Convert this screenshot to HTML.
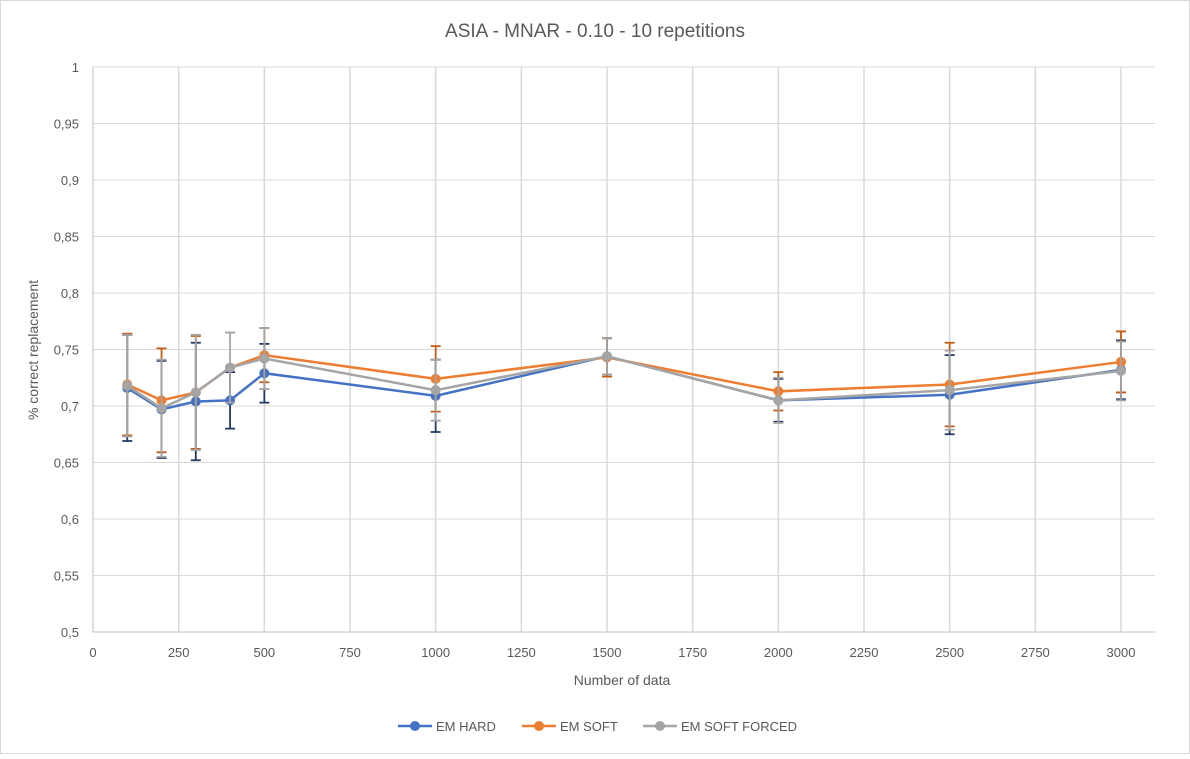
<!DOCTYPE html>
<html><head><meta charset="utf-8"><style>
body{margin:0;background:#fff;font-family:"Liberation Sans",sans-serif;}
svg text{font-family:"Liberation Sans",sans-serif;fill:#595959;}
</style></head><body>
<svg id="chart" width="1190" height="754">
<rect x="0.5" y="0.5" width="1189" height="753" fill="#fff" stroke="#d9d9d9"/>
<text x="595" y="37" text-anchor="middle" font-size="19">ASIA - MNAR - 0.10 - 10 repetitions</text>
<g id="grid"></g><g id="ticks"></g><g id="series"></g>
<text x="622" y="685" text-anchor="middle" font-size="14">Number of data</text>
<text transform="translate(38,350) rotate(-90)" text-anchor="middle" font-size="14">% correct replacement</text>
<g id="legend"></g>
</svg>
<script>
const xValues=[100,200,300,400,500,1000,1500,2000,2500,3000];
const hardValues=[0.716,0.697,0.704,0.705,0.729,0.709,0.744,0.705,0.710,0.732];
const softValues=[0.719,0.705,0.712,0.734,0.745,0.724,0.743,0.713,0.719,0.739];
const forcedValues=[0.718,0.698,0.712,0.734,0.742,0.714,0.744,0.705,0.714,0.731];
const hardErr=[0.047,0.043,0.052,0.025,0.026,0.032,0.016,0.019,0.035,0.026];
const softErr=[0.045,0.046,0.050,0.000,0.024,0.029,0.017,0.017,0.037,0.027];
const forcedErr=[0.045,0.043,0.051,0.031,0.027,0.027,0.016,0.020,0.035,0.026];
const xTicks=[0,250,500,750,1000,1250,1500,1750,2000,2250,2500,2750,3000];
const yTicks=[0.5,0.55,0.6,0.65,0.7,0.75,0.8,0.85,0.9,0.95,1];
const yTickLabels=["0,5","0,55","0,6","0,65","0,7","0,75","0,8","0,85","0,9","0,95","1"];
const NS="http://www.w3.org/2000/svg";
const X=v=>93+v*(1121-93)/3000;
const Y=v=>632-(v-0.5)*(632-67)/0.5;
function mk(t,a,p){const e=document.createElementNS(NS,t);for(const k in a)e.setAttribute(k,a[k]);p.appendChild(e);return e;}
const grid=document.getElementById('grid'),ticks=document.getElementById('ticks'),ser=document.getElementById('series'),leg=document.getElementById('legend');
xTicks.forEach(t=>{
 const l=mk('line',{x1:X(t),x2:X(t),y1:67,y2:632,stroke:t==0?'#bfbfbf':'#d9d9d9','stroke-width':t==0?1:1.5},grid);
 
 const tx=mk('text',{x:X(t),y:657,'text-anchor':'middle','font-size':13},ticks);tx.textContent=t;
 
});
yTicks.forEach((t,i)=>{
 const l=mk('line',{x1:93,x2:1155,y1:Y(t),y2:Y(t),stroke:t==0.5?'#bfbfbf':'#d9d9d9','stroke-width':1},grid);
 
 const tx=mk('text',{x:79,y:Y(t)+5,'text-anchor':'end','font-size':13},ticks);tx.textContent=yTickLabels[i];
 
});
const series=[
 {name:'EM HARD',vals:hardValues,err:hardErr,color:'#4472c4',ec:'#1f3864'},
 {name:'EM SOFT',vals:softValues,err:softErr,color:'#ed7d31',ec:'#c55a11'},
 {name:'EM SOFT FORCED',vals:forcedValues,err:forcedErr,color:'#a5a5a5',ec:'#a5a5a5'}];
series.forEach(s=>{
 const g=mk('g',{},ser);
 
 
 s.vals.forEach((v,i)=>{
  const x=X(xValues[i]),y1=Y(v+s.err[i]),y2=Y(v-s.err[i]);
  const e=mk('path',{d:`M${x},${y1}V${y2}M${x-5},${y1}H${x+5}M${x-5},${y2}H${x+5}`,stroke:s.ec,'stroke-width':1.8,fill:'none'},g);
  
 });
 const p=mk('polyline',{points:s.vals.map((v,i)=>X(xValues[i])+','+Y(v)).join(' '),fill:'none',stroke:s.color,'stroke-width':2.5},g);
 
 s.vals.forEach((v,i)=>{
  const c=mk('circle',{cx:X(xValues[i]),cy:Y(v),r:5,fill:s.color},g);
  
 });
});
const lx=[398,522,643];
series.forEach((s,i)=>{
 const g=mk('g',{},leg);
 
 mk('line',{x1:lx[i],x2:lx[i]+34,y1:726,y2:726,stroke:s.color,'stroke-width':2.5},g);
 mk('circle',{cx:lx[i]+17,cy:726,r:5,fill:s.color},g);
 const t=mk('text',{x:lx[i]+38,y:731,'font-size':13},g);t.textContent=s.name;
});
</script>
</body></html>
